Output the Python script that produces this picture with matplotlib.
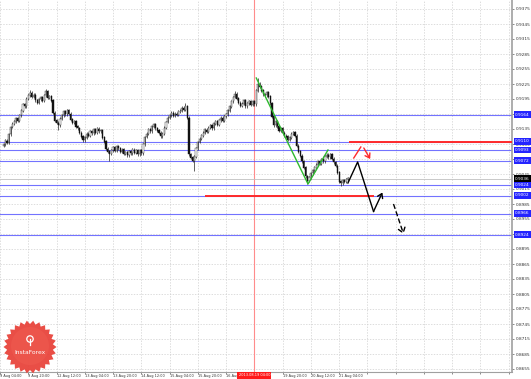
import numpy as np
import matplotlib.pyplot as plt
import matplotlib.transforms as mtransforms
from matplotlib.patches import Polygon, Circle

# H1 closes, one per bar (bar 142 = 2013.08.19 04:00)
closes = [
    0.9105, 0.9112, 0.9108, 0.9125, 0.9139, 0.9146, 0.9150, 0.9157, 0.9152, 0.9163,
    0.9172, 0.9185, 0.9181, 0.9196, 0.9203, 0.9208, 0.9199, 0.9204, 0.9193, 0.9188,
    0.9195, 0.9199, 0.9192, 0.9203, 0.9210, 0.9198, 0.9201, 0.9192, 0.9168, 0.9152,
    0.9148, 0.9143, 0.9156, 0.9163, 0.9170, 0.9165, 0.9172, 0.9166, 0.9154, 0.9148,
    0.9151, 0.9140, 0.9137, 0.9128, 0.9120, 0.9113, 0.9118, 0.9126, 0.9122, 0.9130,
    0.9127, 0.9134, 0.9128, 0.9136, 0.9131, 0.9133, 0.9118, 0.9110, 0.9096, 0.9090,
    0.9086, 0.9093, 0.9098, 0.9092, 0.9101, 0.9097, 0.9090, 0.9094, 0.9086, 0.9089,
    0.9083, 0.9091, 0.9087, 0.9094, 0.9088, 0.9093, 0.9085, 0.9092, 0.9087, 0.9105,
    0.9119, 0.9126, 0.9135, 0.9131, 0.9140, 0.9145, 0.9137, 0.9132, 0.9128, 0.9121,
    0.9126, 0.9138, 0.9149, 0.9158, 0.9163, 0.9168, 0.9162, 0.9166, 0.9164, 0.9170,
    0.9172, 0.9178, 0.9174, 0.9181, 0.9158, 0.9085, 0.9078, 0.9072, 0.9080, 0.9097,
    0.9109, 0.9116, 0.9122, 0.9128, 0.9134, 0.9129, 0.9138, 0.9143, 0.9137, 0.9146,
    0.9150, 0.9144, 0.9153, 0.9158, 0.9152, 0.9161, 0.9165, 0.9172, 0.9180, 0.9191,
    0.9199, 0.9206, 0.9196, 0.9188, 0.9182, 0.9186, 0.9193, 0.9181, 0.9187, 0.9190,
    0.9184, 0.9191, 0.9185, 0.9212, 0.9226, 0.9220, 0.9212, 0.9205, 0.9203, 0.9209,
    0.9200, 0.9187, 0.9160, 0.9143, 0.9150, 0.9141, 0.9132, 0.9136, 0.9128, 0.9122,
    0.9120, 0.9114, 0.9118, 0.9126, 0.9129, 0.9122, 0.9102, 0.9090, 0.9082, 0.9071,
    0.9058, 0.9041, 0.9032, 0.9038, 0.9047, 0.9053, 0.9058, 0.9064, 0.9070, 0.9066,
    0.9075, 0.9071, 0.9080, 0.9084, 0.9079, 0.9085, 0.9076, 0.9069, 0.9062, 0.9048,
    0.9030, 0.9027, 0.9033, 0.9030, 0.9035, 0.9037,
]
first_open = 0.9102
spike_highs = {15: 0.9214, 24: 0.9216, 103: 0.9188, 131: 0.9212, 144: 0.9237}
spike_lows = {31: 0.9133, 60: 0.9072, 108: 0.9052, 172: 0.9025, 191: 0.9022}

# horizontal levels (blue), current bid
levels = [0.9164, 0.9110, 0.9093, 0.9072, 0.9024, 0.9002, 0.8966, 0.8924]
bid = 0.9036

# axis
grid_prices = [round(0.8655 + 0.003 * j, 4) for j in range(25)]
tick_bars = list(range(-2, 290, 16))
date_labels = ['9 Aug 04:00', '9 Aug 20:00', '12 Aug 12:00', '13 Aug 04:00',
               '13 Aug 20:00', '14 Aug 12:00', '15 Aug 04:00', '15 Aug 20:00',
               '16 Aug 12:00', '', '19 Aug 20:00', '20 Aug 12:00',
               '21 Aug 04:00']
marker_bar = 142
marker_text = '2013.08.19 04:00'

# drawn analysis lines (bar, price)
green_x = [143.1, 172.4, 183.7]
green_y = [0.9237, 0.9025, 0.9093]
black_x = [195, 200.5, 209.5, 214.5]
black_y = [0.9027, 0.9069, 0.8970, 0.9008]
dash_x = [220.9, 226.5]
dash_y = [0.8984, 0.8925]
red_up_x = [198.3, 202.3]
red_up_y = [0.9077, 0.9099]
red_dn_x = [204.0, 207.6]
red_dn_y = [0.9097, 0.9075]
red_lvl1 = (195.5, 300, 0.9110)
red_lvl2 = (113.8, 209.6, 0.9002)

W, H = 531, 379
fig = plt.figure(figsize=(W / 100, H / 100), dpi=100)
fig.patch.set_facecolor('white')
ax = fig.add_axes([0, 7 / H, 512 / W, 372 / H])
ax.set_xlim(-0.54, 287.9)
ax.set_ylim(0.8649, 0.9393)

n = len(closes)
idx = np.arange(n)
c = np.array(closes)
o = np.concatenate([[first_open], c[:-1]])
hi = np.maximum(o, c) + 0.0003
lo = np.minimum(o, c) - 0.0003
for k, v in spike_highs.items():
    hi[k] = v
for k, v in spike_lows.items():
    lo[k] = v

# grid
for p in grid_prices:
    ax.axhline(p, color='#cfcfcf', lw=0.5, ls=(0, (2, 2)), zorder=0)
for b in tick_bars:
    ax.axvline(b, color='#cfcfcf', lw=0.5, ls=(0, (2, 2)), zorder=0)

ax.axvline(marker_bar, color='#ff8c8c', lw=0.8, zorder=1)

# levels
for p in levels:
    ax.axhline(p, color='#5050ff', lw=0.8, alpha=0.8, zorder=2)
ax.axhline(bid, color='#c0c0c0', lw=0.6, zorder=1)
ax.hlines(red_lvl1[2], red_lvl1[0], red_lvl1[1], color='#ff2a2a', lw=1.4, zorder=3)
ax.hlines(red_lvl2[2], red_lvl2[0], red_lvl2[1], color='#ff2a2a', lw=1.4, zorder=3)

# candles
ax.vlines(idx, lo, hi, color='#222222', lw=0.5, zorder=4)
up = c >= o
ax.bar(idx[up], (c - o)[up], bottom=o[up], width=0.65, color='white',
       edgecolor='#222222', linewidth=0.3, zorder=5)
ax.bar(idx[~up], (o - c)[~up], bottom=c[~up], width=0.65, color='#111111',
       edgecolor='#111111', linewidth=0.3, zorder=5)

# analysis
ax.plot(green_x, green_y, color='#2db82d', lw=1.0, zorder=6)
ax.plot(black_x[:-1], black_y[:-1], color='black', lw=1.0, zorder=6)
ax.annotate('', xy=(black_x[-1], black_y[-1]), xytext=(black_x[-2], black_y[-2]),
            arrowprops=dict(arrowstyle='->,head_length=0.3,head_width=0.2',
                            color='black', lw=1.0, shrinkA=0, shrinkB=0), zorder=6)
ax.annotate('', xy=(dash_x[1], dash_y[1]), xytext=(dash_x[0], dash_y[0]),
            arrowprops=dict(arrowstyle='->,head_length=0.35,head_width=0.25',
                            color='black', lw=1.0, ls=(0, (3, 2.5)),
                            shrinkA=0, shrinkB=0), zorder=6)
ax.plot(red_up_x, red_up_y, color='#ff2a2a', lw=1.0, zorder=6)
ax.annotate('', xy=(red_dn_x[1], red_dn_y[1]), xytext=(red_dn_x[0], red_dn_y[0]),
            arrowprops=dict(arrowstyle='->,head_length=0.3,head_width=0.2',
                            color='#ff2a2a', lw=1.0, shrinkA=0, shrinkB=0), zorder=6)

# axes look
for s in ['top', 'left']:
    ax.spines[s].set_visible(False)
ax.spines['right'].set_color('#a0a0a0')
ax.spines['bottom'].set_color('#a0a0a0')
ax.spines['right'].set_linewidth(1.2)
ax.spines['bottom'].set_linewidth(0.8)
ax.yaxis.tick_right()
ax.set_yticks(grid_prices)
ax.set_yticklabels([f'{p:.4f}' for p in grid_prices])
ax.tick_params(axis='y', labelsize=3.1, length=1.5, width=0.4, pad=1,
               colors='#333333')
ax.set_xticks(tick_bars)
ax.set_xticklabels(date_labels + [''] * (len(tick_bars) - len(date_labels)))
ax.tick_params(axis='x', labelsize=2.5, length=1.2, width=0.4, pad=0.6,
               colors='#333333')
for t in ax.get_xticklabels():
    t.set_ha('left')

ytr = mtransforms.blended_transform_factory(ax.transAxes, ax.transData)
for p in levels:
    ax.text(1.006, p, f'{p:.4f}', transform=ytr, fontsize=3.1, color='white',
            ha='left', va='center', clip_on=False, zorder=10,
            bbox=dict(boxstyle='square,pad=0.3', fc='#2424ff', ec='none'))
ax.text(1.006, bid, f'{bid:.4f}', transform=ytr, fontsize=3.1, color='white',
        ha='left', va='center', clip_on=False, zorder=11,
        bbox=dict(boxstyle='square,pad=0.3', fc='black', ec='none'))

xtr = mtransforms.blended_transform_factory(ax.transData, ax.transAxes)
ax.text(marker_bar, -0.004, marker_text, transform=xtr, fontsize=2.5,
        color='white', ha='center', va='top', clip_on=False, zorder=10,
        bbox=dict(boxstyle='square,pad=0.35', fc='#ff1a1a', ec='none'))

# InstaForex badge
ov = fig.add_axes([0, 0, 1, 1], facecolor='none')
ov.set_xlim(0, W)
ov.set_ylim(H, 0)
ov.axis('off')
cx, cy, teeth = 30, 347, 26
ang = np.linspace(0, 2 * np.pi, teeth * 2, endpoint=False)
rad = np.where(np.arange(teeth * 2) % 2 == 0, 26.5, 23.0)
ov.add_patch(Polygon(np.c_[cx + rad * np.cos(ang), cy + rad * np.sin(ang)],
                     closed=True, fc='#e8443c', ec='none', alpha=0.95))
ov.add_patch(Circle((cx, cy - 1), 19, fc='#ef5a50', ec='none', alpha=0.6))
ov.add_patch(Circle((cx, cy - 8), 3.2, fc='none', ec='white', lw=0.9))
ov.plot([cx, cx], [cy - 8, cy - 2.5], color='white', lw=0.9)
ov.text(cx, cy + 5, 'InstaForex', color='white', fontsize=4.3,
        ha='center', va='center')

fig.savefig('out.png', dpi=100)
